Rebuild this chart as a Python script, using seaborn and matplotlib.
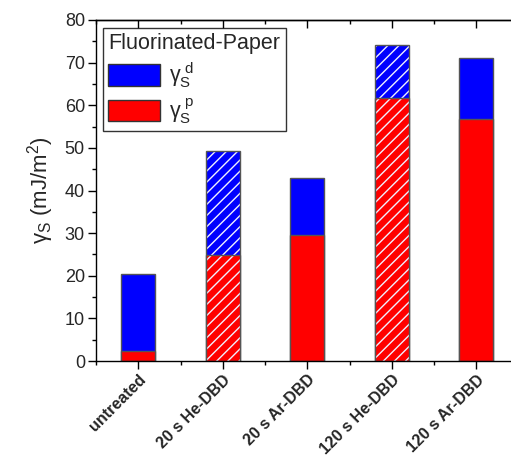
import matplotlib
matplotlib.use("Agg")
import matplotlib.pyplot as plt
import matplotlib.colors as mcolors
from matplotlib.patches import Patch
from matplotlib.ticker import MultipleLocator, FixedLocator
import seaborn as sns
import pandas as pd

categories = ["untreated", "20 s He-DBD", "20 s Ar-DBD", "120 s He-DBD", "120 s Ar-DBD"]
gamma_total = [20.3, 49.3, 43.0, 74.1, 71.2]
gamma_polar = [2.4, 24.9, 29.6, 61.6, 56.8]
hatched = [False, True, False, True, False]

sns.set_theme(style="white")
plt.rcParams["font.family"] = ["Liberation Sans", "DejaVu Sans"]
plt.rcParams["mathtext.fontset"] = "custom"
plt.rcParams["mathtext.rm"] = "Liberation Sans"
plt.rcParams["mathtext.it"] = "Liberation Sans"
plt.rcParams["hatch.linewidth"] = 1.0

df = pd.DataFrame({"cat": categories, "total": gamma_total, "polar": gamma_polar})

fig = plt.figure(figsize=(5.11, 4.57), dpi=100)
ax = fig.add_axes([96 / 511, 96 / 457, 422.5 / 511, 341 / 457])

sns.barplot(data=df, x="cat", y="total", color="#0000ff", saturation=1, width=0.4,
            edgecolor="#555555", linewidth=1, ax=ax)
sns.barplot(data=df, x="cat", y="polar", color="#ff0000", saturation=1, width=0.4,
            edgecolor="#555555", linewidth=1, ax=ax)

n = len(categories)
for i, p in enumerate(ax.patches):
    if hatched[i % n]:
        p.set_hatch("///")
        p._hatch_color = mcolors.to_rgba("#f0f0ff")

ax.set_xlim(-0.5, n - 0.5)
ax.set_ylim(0, 80)
ax.yaxis.set_major_locator(MultipleLocator(10))
ax.yaxis.set_minor_locator(MultipleLocator(5))
minor_x = [i + 0.5 for i in range(-1, n)]
ax.xaxis.set_minor_locator(FixedLocator(minor_x))

for s in ax.spines.values():
    s.set_color("black")
    s.set_linewidth(1.0)

ax.tick_params(axis="both", which="major", direction="out", length=6, width=1,
               color="black", bottom=True, left=True, top=False)
ax.tick_params(axis="both", which="minor", direction="out", length=3, width=1,
               color="black", bottom=True, left=True, top=False)
ax.tick_params(axis="y", labelsize=13, pad=2)

# top axis ticks pointing inward
sec = ax.secondary_xaxis("top")
sec.set_xticks(range(n))
sec.xaxis.set_minor_locator(FixedLocator(minor_x))
sec.tick_params(axis="x", which="major", direction="in", length=6, width=1,
                color="black", labeltop=False)
sec.tick_params(axis="x", which="minor", direction="in", length=3, width=1,
                color="black")
sec.spines["top"].set_linewidth(1.0)
sec.spines["top"].set_color("black")

ax.set_xticks(range(n))
ax.set_xticklabels(categories, rotation=45, ha="right", va="top",
                   rotation_mode="anchor", fontsize=11.5, fontweight="bold")
ax.tick_params(axis="x", pad=2)
ax.set_xlabel("")
ax.set_ylabel(r"$\mathregular{\gamma_S}$ (mJ/m$\mathregular{^2}$)", fontsize=16, labelpad=6)

handles = [Patch(facecolor="#0000ff", edgecolor="#333333", linewidth=1),
           Patch(facecolor="#ff0000", edgecolor="#333333", linewidth=1)]
labels = [r"$\mathregular{\gamma_S^{\ d}}$", r"$\mathregular{\gamma_S^{\ p}}$"]
leg = ax.legend(handles, labels, title="Fluorinated-Paper", loc="upper left",
                bbox_to_anchor=(7 / 422.5, 1 - 8 / 341), borderaxespad=0,
                fontsize=15.5, title_fontsize=15.5, frameon=True, fancybox=False,
                edgecolor="black", handlelength=2.4, handleheight=1.15,
                labelspacing=0.3, handletextpad=0.4, borderpad=0.25,
                alignment="left")
leg.get_frame().set_linewidth(1.0)

fig.savefig("out.png", dpi=100)
